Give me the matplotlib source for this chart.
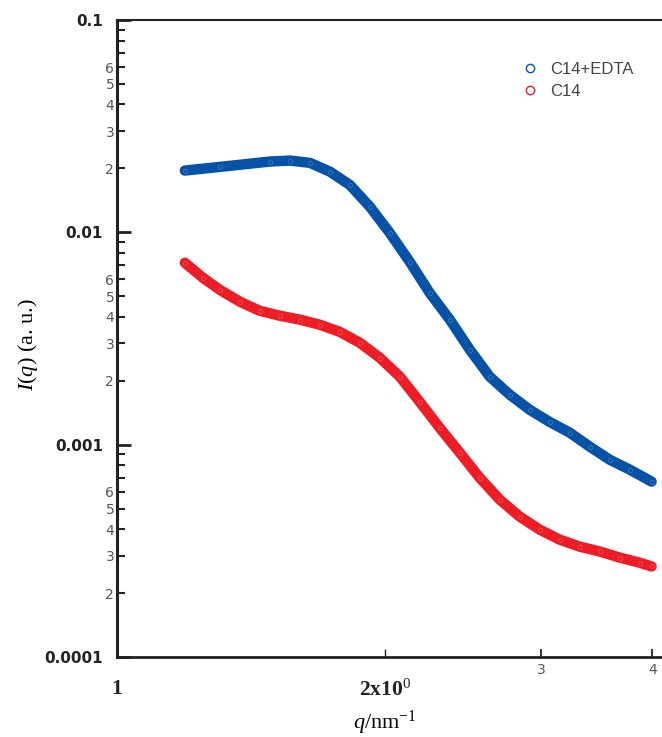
import numpy as np
import matplotlib
matplotlib.use('Agg')
import matplotlib.pyplot as plt
from matplotlib.lines import Line2D
from matplotlib.ticker import FixedLocator, FixedFormatter

plt.rcParams['mathtext.fontset'] = 'custom'
plt.rcParams['mathtext.rm'] = 'Liberation Serif'
plt.rcParams['mathtext.it'] = 'Liberation Serif:italic'

# C14+EDTA
q_edta = [1.192, 1.305, 1.485, 1.565, 1.648, 1.735, 1.827, 1.924, 2.026, 2.134, 2.247,
          2.367, 2.493, 2.625, 2.764, 2.911, 3.065, 3.228, 3.400, 3.580, 3.771, 3.991]
i_edta = [0.01954, 0.02033, 0.02154, 0.02178, 0.02124, 0.01932, 0.01673, 0.01322, 0.00995,
          0.00726, 0.00519, 0.00388, 0.00280, 0.00209, 0.00172, 0.00146, 0.00128, 0.00114,
          0.000979, 0.000850, 0.000763, 0.000670]
# C14
q_c14 = [1.192, 1.249, 1.305, 1.375, 1.447, 1.524, 1.605, 1.691, 1.780, 1.875, 1.974, 2.080,
         2.190, 2.306, 2.429, 2.557, 2.694, 2.837, 2.987, 3.146, 3.313, 3.489, 3.674, 3.870, 3.991]
i_c14 = [0.00719, 0.00611, 0.00536, 0.00471, 0.00427, 0.00405, 0.00388, 0.00367, 0.00340,
         0.00302, 0.00257, 0.00209, 0.00159, 0.00120, 0.000917, 0.000699, 0.000551, 0.000458,
         0.000398, 0.000357, 0.000331, 0.000314, 0.000294, 0.000278, 0.000267]

blue = '#0652a6'
red = '#ee1c25'

fig = plt.figure(figsize=(6.62, 7.37), dpi=100)
ax = fig.add_axes([117/662, 1-657/737, 545/662, 637/737])

for q, i, c in [(q_edta, i_edta, blue), (q_c14, i_c14, red)]:
    ax.plot(q, i, '-', color=c, lw=7.5, solid_capstyle='round', solid_joinstyle='round')
    ax.plot(q, i, 'o', mfc='none', mec='white', ms=3, mew=0.5, alpha=0.25)

ax.set_xscale('log')
ax.set_yscale('log')
ax.set_xlim(1, 4.1)
ax.set_ylim(1e-4, 0.1)

ax.spines['right'].set_visible(False)
ax.spines['left'].set_linewidth(2.2)
ax.spines['bottom'].set_linewidth(2.0)
ax.spines['top'].set_linewidth(1.5)
for s in ax.spines.values():
    s.set_color('#222222')

# y axis
ax.yaxis.set_major_locator(FixedLocator([1e-4, 1e-3, 1e-2, 1e-1]))
ax.yaxis.set_major_formatter(FixedFormatter(['0.0001', '0.001', '0.01', '0.1']))
ymin = [k * 10.0**e for e in range(-4, -1) for k in range(2, 10)]
ylab = [str(k) if k <= 6 else '' for e in range(-4, -1) for k in range(2, 10)]
ax.yaxis.set_minor_locator(FixedLocator(ymin))
ax.yaxis.set_minor_formatter(FixedFormatter(ylab))
ax.tick_params(axis='y', which='major', direction='in', length=10, width=2,
               pad=10, labelsize=11, color='#222222')
ax.tick_params(axis='y', which='minor', direction='in', length=6, width=1.5,
               pad=2, labelsize=10, labelcolor='#555555', color='#222222')
for t in ax.get_yticklabels():
    t.set_fontweight('bold')
    t.set_color('#222222')

# x axis
ax.xaxis.set_major_locator(FixedLocator([1, 2]))
ax.xaxis.set_major_formatter(FixedFormatter(['1', r'2x10$^{\mathrm{0}}$']))
ax.xaxis.set_minor_locator(FixedLocator([3, 4]))
ax.xaxis.set_minor_formatter(FixedFormatter(['3', '4']))
ax.tick_params(axis='x', which='major', direction='in', length=6, width=1,
               pad=16, labelsize=15.5, color='#222222')
ax.tick_params(axis='x', which='minor', direction='in', length=6, width=1.3,
               pad=4, labelsize=10, labelcolor='#555555', color='#222222')
for t in ax.get_xticklabels():
    t.set_fontfamily('Liberation Serif')
    t.set_fontweight('bold')
    t.set_color('#222222')

ax.set_xlabel(r'$q$/nm$^{\mathrm{-1}}$', fontsize=16, fontfamily='Liberation Serif')
ax.xaxis.set_label_coords(0.492, -0.082)
ax.set_ylabel(r'$I$($q$) (a. u.)', fontsize=16, fontfamily='Liberation Serif')
ax.yaxis.set_label_coords(-0.142, 0.49)

handles = [Line2D([], [], marker='o', ls='none', mfc='none', mec=blue, ms=6, mew=1),
           Line2D([], [], marker='o', ls='none', mfc='none', mec=red, ms=6, mew=1)]
leg = ax.legend(handles, ['C14+EDTA', 'C14'], loc='upper left', bbox_to_anchor=(0.742, 0.934),
                frameon=False, handlelength=1, handletextpad=0.75, labelspacing=0.4,
                borderpad=0, borderaxespad=0,
                prop={'family': 'Liberation Sans', 'size': 12})
for t in leg.get_texts():
    t.set_color('#444444')

fig.savefig('out.png', dpi=100)
